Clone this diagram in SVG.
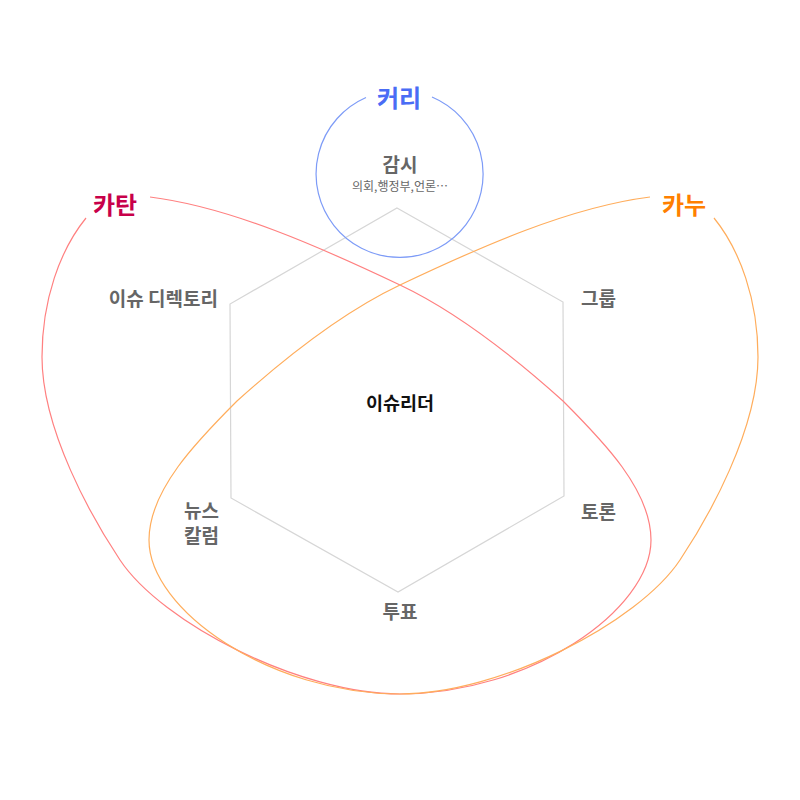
<svg xmlns="http://www.w3.org/2000/svg" width="800" height="800" viewBox="0 0 800 800">
<style>
.node{font-family:"Noto Sans CJK KR","Noto Sans",sans-serif;font-weight:700;font-size:19px;fill:#666}
.sub{font-family:"Noto Sans CJK KR","Noto Sans",sans-serif;font-size:12px;fill:#666}
.title{font-family:"Noto Sans CJK KR","Noto Sans",sans-serif;font-weight:700;font-size:24px}
.center{font-family:"Noto Sans CJK KR","Noto Sans",sans-serif;font-weight:700;font-size:18.5px;fill:#111}
.curve{fill:none;stroke-width:1.2}
</style>
<rect width="800" height="800" fill="#fff"/>
<g id="connectors">
<polygon id="hexagon" points="397,208 563,302 564,496 398,592 231,498 230,304" fill="none" stroke="#d6d6d6" stroke-width="1.2"/>
<path id="curri-circle" class="curve" stroke="#7d9bf7" d="M432,97 A83.5,83.5 0 1 1 366,97.5"/>
<path id="katan-curve" class="curve" stroke="#ff8080" d="M150,197 C230,207 320,247 400,285 C455,311 513,356 563,401 C603,441 651,490 651,540 C651,610 530,694 400,694 C300,694 162,623 120,560 C92,518 42,430 42,357 C42,300 60,250 86,218"/>
<path id="kanu-curve" class="curve" stroke="#ffad5c" d="M650,197 C570,207 480,247 400,285 C345,311 287,356 237,401 C197,441 149,490 149,540 C149,610 270,694 400,694 C500,694 638,623 680,560 C708,518 758,430 758,357 C758,300 740,250 714,218"/>
</g>
<g id="curri"><text class="title" x="399" y="107" text-anchor="middle" fill="#4a6cf5">커리</text></g>
<g id="katan"><text class="title" x="115" y="214" text-anchor="middle" fill="#c8004a">카탄</text></g>
<g id="kanu"><text class="title" x="684" y="214" text-anchor="middle" fill="#ff7f00">카누</text></g>
<g id="watch">
<text class="node" x="400" y="172" text-anchor="middle">감시</text>
<text class="sub" x="400" y="191" text-anchor="middle">의회,행정부,언론…</text>
</g>
<g id="issue-directory"><text class="node" x="218" y="306" text-anchor="end">이슈 디렉토리</text></g>
<g id="group"><text class="node" x="581" y="306">그룹</text></g>
<g id="debate"><text class="node" x="581" y="519">토론</text></g>
<g id="news-column">
<text class="node" x="219" y="518" text-anchor="end">뉴스</text>
<text class="node" x="219" y="543" text-anchor="end">칼럼</text>
</g>
<g id="vote"><text class="node" x="400" y="619" text-anchor="middle">투표</text></g>
<g id="issue-leader"><text class="center" x="400" y="410" text-anchor="middle">이슈리더</text></g>
</svg>
